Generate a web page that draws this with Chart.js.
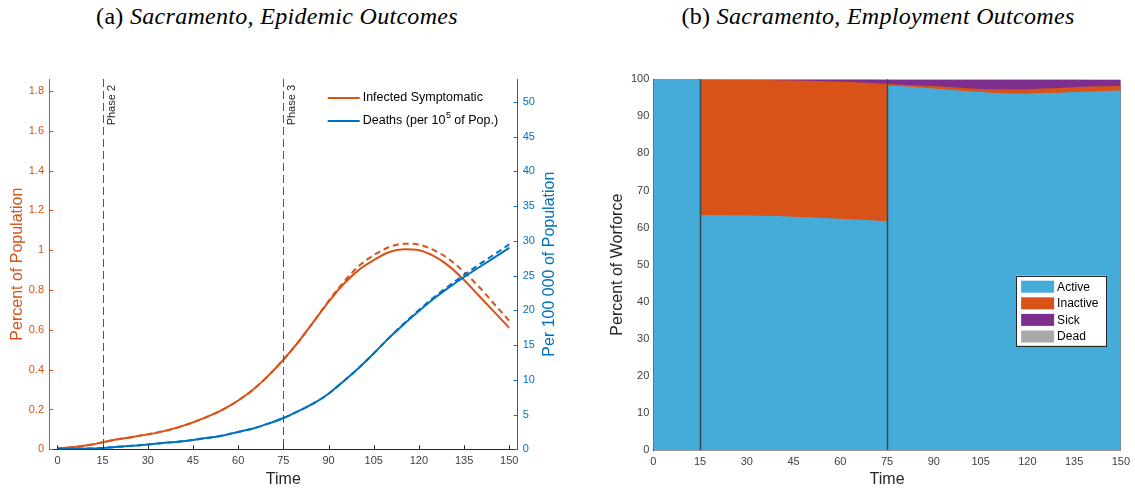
<!DOCTYPE html>
<html>
<head>
<meta charset="utf-8">
<script src="https://cdn.jsdelivr.net/npm/chart.js@4.4.1/dist/chart.umd.min.js"></script>
<style>
  html, body { margin: 0; padding: 0; background: #fff; }
  body { position: relative; width: 1135px; height: 491px; overflow: hidden; }
  .panel { position: absolute; top: 0; height: 491px; }
  .title {
    position: absolute; top: 3px; transform: translateX(-50%); white-space: nowrap;
    font-family: 'Liberation Serif', 'DejaVu Serif', serif; font-size: 24px; color: #000;
    letter-spacing: 0.3px;
  }
</style>
</head>
<body>
<div class="title" style="left:277px">(a) <i>Sacramento, Epidemic Outcomes</i></div>
<div class="title" style="left:878px">(b) <i>Sacramento, Employment Outcomes</i></div>
<div class="panel" style="left:0;width:567px"><canvas id="epiChart"></canvas></div>
<div class="panel" style="left:567px;width:568px"><canvas id="empChart"></canvas></div>
<script>
(function() {
  'use strict';

  // (a) epidemic curves, one point every 5 days
  const epiTime = [0, 5, 10, 15, 20, 25, 30, 35, 40, 45, 50, 55, 60, 65, 70, 75,
    80, 85, 90, 95, 100, 105, 110, 115, 120, 125, 130, 135, 140, 145, 150];
  const infected = [0.005, 0.01, 0.02, 0.035, 0.05, 0.062, 0.075, 0.09, 0.11, 0.135, 0.165, 0.2, 0.245, 0.3, 0.37, 0.45,
    0.54, 0.64, 0.74, 0.83, 0.9, 0.95, 0.99, 1.005, 1.0, 0.97, 0.92, 0.85, 0.77, 0.69, 0.61];
  const infectedAlt = [0.005, 0.01, 0.02, 0.035, 0.05, 0.062, 0.075, 0.09, 0.11, 0.135, 0.165, 0.2, 0.245, 0.3, 0.37, 0.45,
    0.54, 0.64, 0.745, 0.84, 0.92, 0.975, 1.015, 1.033, 1.028, 1.0, 0.955, 0.89, 0.815, 0.73, 0.645];
  const deaths = [0, 0.05, 0.1, 0.2, 0.35, 0.5, 0.7, 0.9, 1.1, 1.35, 1.65, 2.0, 2.5, 3.0, 3.7, 4.5,
    5.5, 6.6, 8.0, 9.8, 11.7, 13.8, 16.0, 18.0, 19.9, 21.7, 23.3, 24.8, 26.2, 27.6, 29.0];
  const deathsAlt = [0, 0.05, 0.1, 0.2, 0.35, 0.5, 0.7, 0.9, 1.1, 1.35, 1.65, 2.0, 2.5, 3.0, 3.7, 4.5,
    5.5, 6.6, 8.0, 9.8, 11.7, 13.8, 16.0, 18.1, 20.05, 21.9, 23.55, 25.1, 26.6, 28.05, 29.5];

  const timeTicks = [0, 15, 30, 45, 60, 75, 90, 105, 120, 135, 150];
  const pctTicks = [0, 0.2, 0.4, 0.6, 0.8, 1, 1.2, 1.4, 1.6, 1.8];
  const per100kTicks = [0, 5, 10, 15, 20, 25, 30, 35, 40, 45, 50];
  const phaseTimes = [15, 75];
  const phaseLabels = ['Phase 2', 'Phase 3'];

  // (b) workforce shares in percent; 15 and 75 appear twice for the jumps
  const empTime = [0, 5, 10, 15,
    15, 20, 25, 30, 35, 40, 45, 50, 55, 60, 65, 70, 75,
    75, 80, 85, 90, 95, 100, 105, 110, 115, 120, 125, 130, 135, 140, 145, 150];
  const active = [99.98, 99.97, 99.96, 99.94,
    63.4, 63.4, 63.35, 63.3, 63.2, 63.1, 62.95, 62.8, 62.6, 62.4, 62.2, 62.0, 61.7,
    98.3, 98.1, 97.85, 97.55, 97.2, 96.85, 96.55, 96.3, 96.2, 96.2, 96.3, 96.4, 96.55, 96.7, 96.85, 97.0];
  const inactive = [0, 0, 0, 0.008,
    36.55, 36.53, 36.55, 36.57, 36.62, 36.67, 36.74, 36.79, 36.89, 36.93, 36.98, 36.98, 37.07,
    0.47, 0.42, 0.465, 0.61, 0.705, 0.8, 0.845, 0.99, 1.085, 1.13, 1.225, 1.27, 1.315, 1.36, 1.305, 1.25];
  const sick = [0.02, 0.03, 0.04, 0.05,
    0.05, 0.07, 0.1, 0.13, 0.17, 0.22, 0.3, 0.4, 0.5, 0.65, 0.8, 1.0, 1.2,
    1.2, 1.45, 1.65, 1.8, 2.05, 2.3, 2.55, 2.65, 2.65, 2.6, 2.4, 2.25, 2.05, 1.85, 1.75, 1.65];
  const dead = [0, 0, 0, 0.002,
    0.002, 0.003, 0.004, 0.005, 0.006, 0.008, 0.01, 0.012, 0.014, 0.017, 0.02, 0.023, 0.027,
    0.027, 0.03, 0.035, 0.04, 0.045, 0.05, 0.055, 0.06, 0.065, 0.07, 0.075, 0.08, 0.085, 0.09, 0.095, 0.1];
  const workforceTicks = [0, 10, 20, 30, 40, 50, 60, 70, 80, 90, 100];

  const ORANGE = '#d95319';
  const BLUE = '#0072bd';
  const INK = '#262626';
  const SANS = "'Liberation Sans', Arial, sans-serif";

  Chart.defaults.font.family = SANS;
  Chart.defaults.font.size = 11;
  Chart.defaults.color = '#404040';

  function points(xs, ys) {
    return xs.map((x, i) => ({ x: x, y: ys[i] }));
  }

  function fixTicks(values) {
    return function(scale) {
      scale.ticks = values.map(v => ({ value: v }));
    };
  }

  function fixWidth(w) {
    return function(scale) { scale.width = w; };
  }

  function fixHeight(h) {
    return function(scale) { scale.height = h; };
  }

  // vertical markers at the phase changes
  const phaseLinesPlugin = {
    id: 'phaseLines',
    afterDatasetsDraw(chart, args, opts) {
      const { ctx, chartArea: a } = chart;
      const x = chart.scales.x;
      ctx.save();
      opts.times.forEach((t, i) => {
        const px = Math.round(x.getPixelForValue(t)) + 0.5;
        ctx.strokeStyle = opts.color;
        ctx.lineWidth = opts.width;
        ctx.setLineDash(opts.dash || []);
        ctx.beginPath();
        ctx.moveTo(px, a.top);
        ctx.lineTo(px, a.bottom);
        ctx.stroke();
        if (opts.labels) {
          ctx.save();
          ctx.translate(px + 3, a.top + 6);
          ctx.rotate(-Math.PI / 2);
          ctx.fillStyle = opts.labelColor;
          ctx.font = '11px ' + SANS;
          ctx.textAlign = 'right';
          ctx.textBaseline = 'top';
          ctx.fillText(opts.labels[i], 0, 0);
          ctx.restore();
        }
      });
      ctx.restore();
    }
  };

  // MATLAB style ticks pointing into the plot
  const innerTicksPlugin = {
    id: 'innerTicks',
    afterDraw(chart, args, opts) {
      const { ctx, chartArea: a } = chart;
      const len = opts.length;
      ctx.save();
      ctx.lineWidth = 1;
      Object.values(chart.scales).forEach(s => {
        ctx.strokeStyle = s.options.border.color;
        s.ticks.forEach(t => {
          const p = Math.round(s.getPixelForValue(t.value)) + 0.5;
          ctx.beginPath();
          if (s.axis === 'x') {
            ctx.moveTo(p, a.bottom);
            ctx.lineTo(p, a.bottom - len);
          } else if (s.position === 'left') {
            ctx.moveTo(a.left, p);
            ctx.lineTo(a.left + len, p);
          } else {
            ctx.moveTo(a.right, p);
            ctx.lineTo(a.right - len, p);
          }
          ctx.stroke();
        });
      });
      ctx.restore();
    }
  };

  // right axis title reads bottom to top, like the left one
  const sideTitlePlugin = {
    id: 'sideTitle',
    afterDraw(chart, args, opts) {
      const { ctx, chartArea: a } = chart;
      ctx.save();
      ctx.translate(a.right + opts.offset, (a.top + a.bottom) / 2);
      ctx.rotate(-Math.PI / 2);
      ctx.fillStyle = opts.color;
      ctx.font = '16px ' + SANS;
      ctx.textAlign = 'center';
      ctx.textBaseline = 'middle';
      ctx.fillText(opts.text, 0, 0);
      ctx.restore();
    }
  };

  const lineLegendPlugin = {
    id: 'lineLegend',
    afterDraw(chart, args, opts) {
      const { ctx, chartArea: a } = chart;
      const items = chart.data.datasets
        .filter(d => d.legendRank)
        .sort((p, q) => p.legendRank - q.legendRank);
      const x0 = a.right - opts.right;
      ctx.save();
      ctx.textBaseline = 'middle';
      items.forEach((d, i) => {
        const y = a.top + opts.top + i * opts.rowGap;
        ctx.strokeStyle = d.borderColor;
        ctx.lineWidth = 2;
        ctx.beginPath();
        ctx.moveTo(x0, y);
        ctx.lineTo(x0 + 32, y);
        ctx.stroke();

        const parts = d.label.split('^');
        let tx = x0 + 35;
        ctx.fillStyle = '#000';
        ctx.font = '12.5px ' + SANS;
        ctx.fillText(parts[0], tx, y);
        tx += ctx.measureText(parts[0]).width;
        if (parts[1]) {
          ctx.font = '9px ' + SANS;
          ctx.fillText(parts[1][0], tx + 0.5, y - 5);
          tx += ctx.measureText(parts[1][0]).width + 0.5;
          ctx.font = '12.5px ' + SANS;
          ctx.fillText(parts[1].slice(1), tx, y);
        }
      });
      ctx.restore();
    }
  };

  const boxLegendPlugin = {
    id: 'boxLegend',
    afterDraw(chart, args, opts) {
      const { ctx, chartArea: a } = chart;
      const left = a.right - opts.right;
      const top = a.top + opts.top;
      const sets = chart.data.datasets;
      ctx.save();
      ctx.fillStyle = '#fff';
      ctx.fillRect(left, top, opts.width, opts.height);
      ctx.strokeStyle = INK;
      ctx.lineWidth = 1;
      ctx.strokeRect(Math.round(left) + 0.5, Math.round(top) + 0.5, opts.width, opts.height);
      ctx.font = '12px ' + SANS;
      ctx.textBaseline = 'middle';
      sets.forEach((d, i) => {
        const y = top + 11 + i * 16.6;
        ctx.fillStyle = d.backgroundColor;
        ctx.fillRect(left + 5, y - 6, 33, 12);
        ctx.fillStyle = '#000';
        ctx.fillText(d.label, left + 41, y + 0.5);
      });
      ctx.restore();
    }
  };

  function lineSet(label, ys, color, axis, dashed, legendRank) {
    return {
      label: label,
      data: points(epiTime, ys),
      borderColor: color,
      borderWidth: 2,
      borderDash: dashed ? [6, 4] : [],
      pointRadius: 0,
      cubicInterpolationMode: 'monotone',
      yAxisID: axis,
      legendRank: legendRank
    };
  }

  new Chart(document.getElementById('epiChart'), {
    type: 'line',
    data: {
      datasets: [
        lineSet('Deaths (per 10^5 of Pop.)', deathsAlt, BLUE, 'y1', true, 0),
        lineSet('Deaths (per 10^5 of Pop.)', deaths, BLUE, 'y1', false, 2),
        lineSet('Infected Symptomatic', infectedAlt, ORANGE, 'y', true, 0),
        lineSet('Infected Symptomatic', infected, ORANGE, 'y', false, 1)
      ]
    },
    options: {
      responsive: true,
      maintainAspectRatio: false,
      animation: false,
      devicePixelRatio: 1,
      layout: { padding: { top: 79 } },
      scales: {
        x: {
          type: 'linear',
          min: -2.8,
          max: 152.8,
          afterBuildTicks: fixTicks(timeTicks),
          afterFit: fixHeight(41.7),
          grid: { display: false, drawTicks: false },
          border: { color: INK, width: 1 },
          ticks: { padding: 5, autoSkip: false, maxRotation: 0, color: '#404040' },
          title: { display: true, text: 'Time', color: INK, font: { size: 16 }, padding: { top: 0, bottom: 2 } }
        },
        y: {
          position: 'left',
          min: 0,
          max: 1.86,
          afterBuildTicks: fixTicks(pctTicks),
          afterFit: fixWidth(49),
          grid: { display: false, drawTicks: false },
          border: { color: ORANGE, width: 1 },
          ticks: { padding: 5, color: ORANGE, callback: v => String(Math.round(v * 10) / 10) },
          title: { display: true, text: 'Percent of Population', color: ORANGE, font: { size: 16 }, padding: { top: 8, bottom: 0 } }
        },
        y1: {
          position: 'right',
          min: 0,
          max: 53.3,
          afterBuildTicks: fixTicks(per100kTicks),
          afterFit: fixWidth(49.3),
          grid: { display: false, drawTicks: false },
          border: { color: BLUE, width: 1 },
          ticks: { padding: 5, color: BLUE }
        }
      },
      plugins: {
        legend: { display: false },
        tooltip: { enabled: false },
        phaseLines: { times: phaseTimes, labels: phaseLabels, color: '#555', labelColor: INK, width: 1, dash: [8, 4] },
        innerTicks: { length: 4 },
        sideTitle: { text: 'Per 100 000 of Population', color: BLUE, offset: 32 },
        lineLegend: { right: 190, top: 19, rowGap: 23 }
      }
    },
    plugins: [phaseLinesPlugin, innerTicksPlugin, sideTitlePlugin, lineLegendPlugin]
  });

  const layers = [
    { label: 'Active', values: active, color: '#45abd8' },
    { label: 'Inactive', values: inactive, color: ORANGE },
    { label: 'Sick', values: sick, color: '#7e2f8e' },
    { label: 'Dead', values: dead, color: '#a9a9a9' }
  ];

  // each layer is drawn as its running total filled down to zero
  let running = empTime.map(() => 0);
  const empDatasets = layers.map(layer => {
    running = running.map((v, i) => v + layer.values[i]);
    return {
      label: layer.label,
      data: points(empTime, running),
      backgroundColor: layer.color,
      borderColor: 'transparent',
      borderWidth: 0,
      pointRadius: 0,
      tension: 0,
      fill: 'origin'
    };
  });

  new Chart(document.getElementById('empChart'), {
    type: 'line',
    data: { datasets: empDatasets },
    options: {
      responsive: true,
      maintainAspectRatio: false,
      animation: false,
      devicePixelRatio: 1,
      layout: { padding: { top: 79.3, right: 12.3 } },
      scales: {
        x: {
          type: 'linear',
          min: 0,
          max: 150,
          z: 1,
          afterBuildTicks: fixTicks(timeTicks),
          afterFit: fixHeight(41),
          grid: { display: false, drawTicks: false },
          border: { color: '#9a9a9a', width: 1 },
          ticks: { padding: 5, autoSkip: false, maxRotation: 0, color: '#404040' },
          title: { display: true, text: 'Time', color: INK, font: { size: 16 }, padding: { top: 0, bottom: 2 } }
        },
        y: {
          min: 0,
          max: 100,
          z: 1,
          afterBuildTicks: fixTicks(workforceTicks),
          afterFit: fixWidth(86.3),
          grid: { display: false, drawTicks: false },
          border: { color: INK, width: 1 },
          ticks: { padding: 4, color: '#404040' },
          title: { display: true, text: 'Percent of Worforce', color: INK, font: { size: 16 }, padding: { top: 41, bottom: 0 } }
        }
      },
      plugins: {
        legend: { display: false },
        tooltip: { enabled: false },
        phaseLines: { times: phaseTimes, color: '#34495a', width: 1.5 },
        boxLegend: { right: 104.7, top: 196.4, width: 90, height: 70 }
      }
    },
    plugins: [phaseLinesPlugin, boxLegendPlugin]
  });
})();
</script>
</body>
</html>
